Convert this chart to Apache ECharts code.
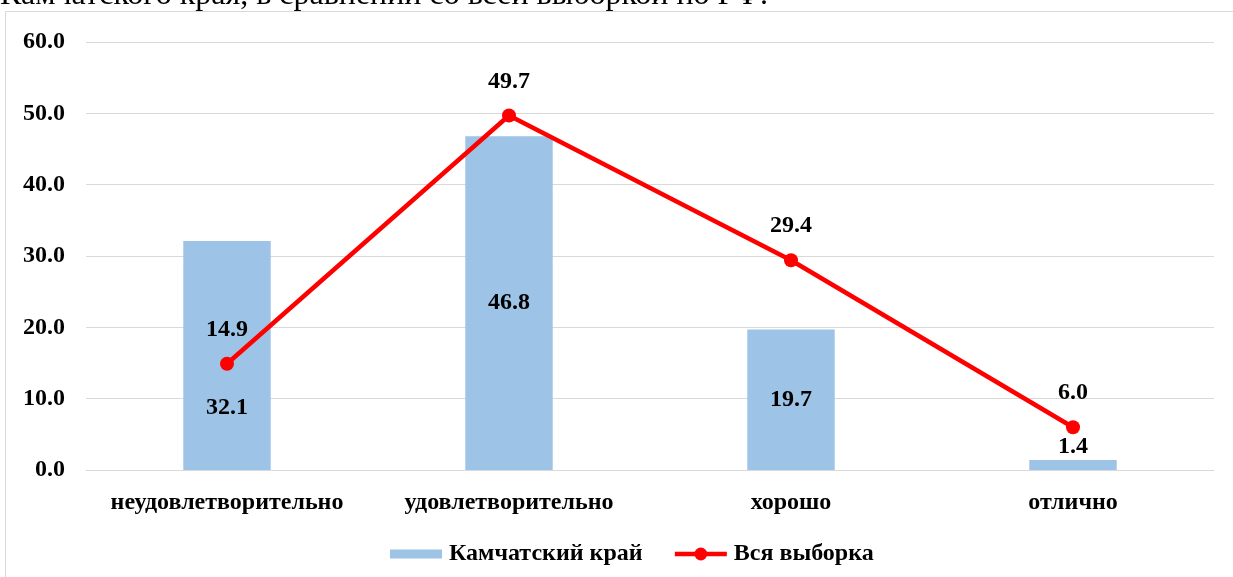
<!DOCTYPE html>
<html>
<head>
<meta charset="utf-8">
<script src="https://cdn.jsdelivr.net/npm/echarts@6/dist/echarts.min.js"></script>
<style>html,body{margin:0;padding:0;background:#fff;}#c{width:1233px;height:577px;}</style>
</head>
<body>
<div id="c"></div>
<script>
const categories = ['неудовлетворительно', 'удовлетворительно', 'хорошо', 'отлично'];
const kamchatka = [32.1, 46.8, 19.7, 1.4];
const allSample = [14.9, 49.7, 29.4, 6.0];
const yTicks = [0, 10, 20, 30, 40, 50, 60];
const titleText = 'Камчатского края, в сравнении со всей выборкой по РФ.';

const FONT = '"Liberation Serif", "Times New Roman", serif';
const FS = 24;
const chart = echarts.init(document.getElementById('c'));

const barLabelCfg = [
  { position: 'inside', offset: [0, 52] },
  { position: 'inside', offset: [0, 0] },
  { position: 'inside', offset: [0, 0] },
  { position: 'top', distance: 1 }
];

chart.setOption({
  animation: false,
  textStyle: { fontFamily: FONT },
  graphic: [
    { type: 'rect', shape: { x: 5.5, y: 11.5, width: 1300, height: 700 }, style: { fill: 'none', stroke: '#D9D9D9', lineWidth: 1 }, silent: true },
    { type: 'text', x: 0, y: -4, style: { text: titleText, fontFamily: FONT, fontSize: 32, fill: '#000', verticalAlign: 'middle' } }
  ],
  grid: { left: 86, right: 19, top: 42, bottom: 107 },
  legend: {
    bottom: 6,
    left: 385,
    itemWidth: 52,
    itemHeight: 16,
    itemGap: 30,
    textStyle: { fontFamily: FONT, fontSize: FS, fontWeight: 'bold', color: '#000', padding: [0, 0, 0, 2] },
    data: [
      { name: 'Камчатский край', icon: 'path://M0,0L0.01,0M0,3.5L52,3.5L52,12.5L0,12.5ZM0,16L0.01,16' },
      { name: 'Вся выборка', lineStyle: { width: 4.5 } }
    ]
  },
  xAxis: {
    type: 'category',
    data: categories,
    axisLine: { lineStyle: { color: '#D9D9D9', width: 1 } },
    axisTick: { show: false },
    axisLabel: { interval: 0, margin: 21, fontFamily: FONT, fontSize: FS, fontWeight: 'bold', color: '#000' }
  },
  yAxis: {
    type: 'value',
    min: yTicks[0],
    max: yTicks[yTicks.length - 1],
    interval: 10,
    axisLine: { show: false },
    axisTick: { show: false },
    splitLine: { lineStyle: { color: '#D9D9D9', width: 1 } },
    axisLabel: { margin: 21, fontFamily: FONT, fontSize: FS, fontWeight: 'bold', color: '#000', formatter: v => v.toFixed(1) }
  },
  series: [
    {
      name: 'Камчатский край',
      type: 'bar',
      barWidth: '31%',
      itemStyle: { color: '#9DC3E6' },
      data: kamchatka.map((v, i) => ({
        value: v,
        label: Object.assign({ show: true, fontFamily: FONT, fontSize: FS, fontWeight: 'bold', color: '#000', formatter: p => p.value.toFixed(1) }, barLabelCfg[i])
      }))
    },
    {
      name: 'Вся выборка',
      type: 'line',
      data: allSample,
      symbol: 'circle',
      symbolSize: 14,
      lineStyle: { color: '#FF0000', width: 4.5 },
      itemStyle: { color: '#FF0000' },
      label: { show: true, position: 'top', distance: 15, fontFamily: FONT, fontSize: FS, fontWeight: 'bold', color: '#000', formatter: p => p.value.toFixed(1) }
    }
  ]
});
</script>
</body>
</html>
